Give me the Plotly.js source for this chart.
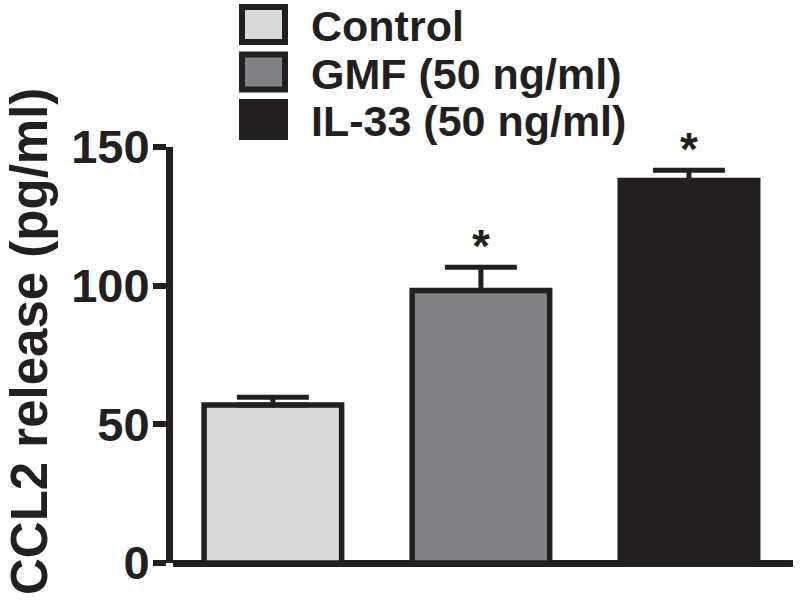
<!DOCTYPE html>
<html>
<head>
<meta charset="utf-8">
<script src="https://cdn.plot.ly/plotly-3.0.1.min.js"></script>
<style>
  html, body { margin: 0; padding: 0; background: #ffffff; }
  #chart { width: 800px; height: 601px; }
</style>
</head>
<body>
<div id="chart"></div>
<script>
// CCL2 release per treatment group (pg/ml), mean and SEM
const groups = ['Control', 'GMF (50 ng/ml)', 'IL-33 (50 ng/ml)'];
const means = [57, 98.3, 137.9];
const sems = [2.8, 8.3, 3.7];
const significant = [false, true, true];
const yTicks = [0, 50, 100, 150];
const yTickText = ['0', '50', '100', '150'];

const INK = '#231f20';
const fills = ['#d9dadb', '#808285', INK];
const FONT = 'Liberation Sans, Arial, Helvetica, sans-serif';

// plot area geometry in page pixels
const W = 800, H = 601;
const M = { l: 173, r: 7, t: 147, b: 38 };
const PW = W - M.l - M.r, PH = H - M.t - M.b;
const px = x => (x - M.l) / PW;          // page x -> paper x
const py = y => (H - M.b - y) / PH;      // page y -> paper y

const trace = {
  type: 'bar',
  x: groups,
  y: means,
  width: 0.661,
  marker: { color: fills, line: { color: INK, width: 5.5 } },
  error_y: {
    type: 'data', symmetric: false, array: sems,
    arrayminus: sems.map(() => 0),
    color: INK, thickness: 5, width: 36
  },
  showlegend: false,
  hoverinfo: 'skip'
};

const shapes = [];
const annotations = [];

// legend: outlined swatches with labels
groups.forEach((g, i) => {
  const top = 7 + i * 47.5, bottom = top + 35;
  shapes.push({
    type: 'rect', xref: 'paper', yref: 'paper',
    x0: px(242), x1: px(285), y0: py(bottom), y1: py(top),
    fillcolor: fills[i], line: { color: INK, width: 6 }, layer: 'above'
  });
  annotations.push({
    xref: 'paper', yref: 'paper', x: px(309), y: py(top + 19),
    xanchor: 'left', yanchor: 'middle', showarrow: false,
    text: g, font: { family: FONT, size: 43, color: INK, weight: 700 }
  });
});

// significance markers above the error bars
groups.forEach((g, i) => {
  if (!significant[i]) return;
  annotations.push({
    xref: 'x', yref: 'y', x: g, y: means[i] + sems[i],
    yanchor: 'middle', yshift: 21, showarrow: false,
    text: '*', font: { family: FONT, size: 46, color: INK, weight: 700 }
  });
});

// y-axis title
annotations.push({
  xref: 'paper', yref: 'paper', x: px(29), y: py(342),
  xanchor: 'center', yanchor: 'middle', textangle: -90, showarrow: false,
  text: 'CCL2 release (pg/ml)',
  font: { family: FONT, size: 51, color: INK, weight: 700 }
});

const layout = {
  width: W, height: H,
  margin: M,
  paper_bgcolor: '#ffffff', plot_bgcolor: '#ffffff',
  showlegend: false,
  xaxis: {
    type: 'category', range: [-0.48, 2.5],
    showticklabels: false, ticks: '', showgrid: false,
    zeroline: false, showline: false, fixedrange: true
  },
  yaxis: {
    range: [0, 150], tickmode: 'array', tickvals: yTicks, ticktext: yTickText,
    ticks: 'outside', ticklen: 13, tickwidth: 6, tickcolor: INK,
    showline: true, linewidth: 7, linecolor: INK,
    zeroline: true, zerolinewidth: 7, zerolinecolor: INK,
    showgrid: false, fixedrange: true, ticklabelstandoff: -6,
    tickfont: { family: FONT, size: 47, color: INK, weight: 700 }
  },
  shapes: shapes,
  annotations: annotations
};

Plotly.newPlot('chart', [trace], layout, { displayModeBar: false, staticPlot: true });
</script>
</body>
</html>
